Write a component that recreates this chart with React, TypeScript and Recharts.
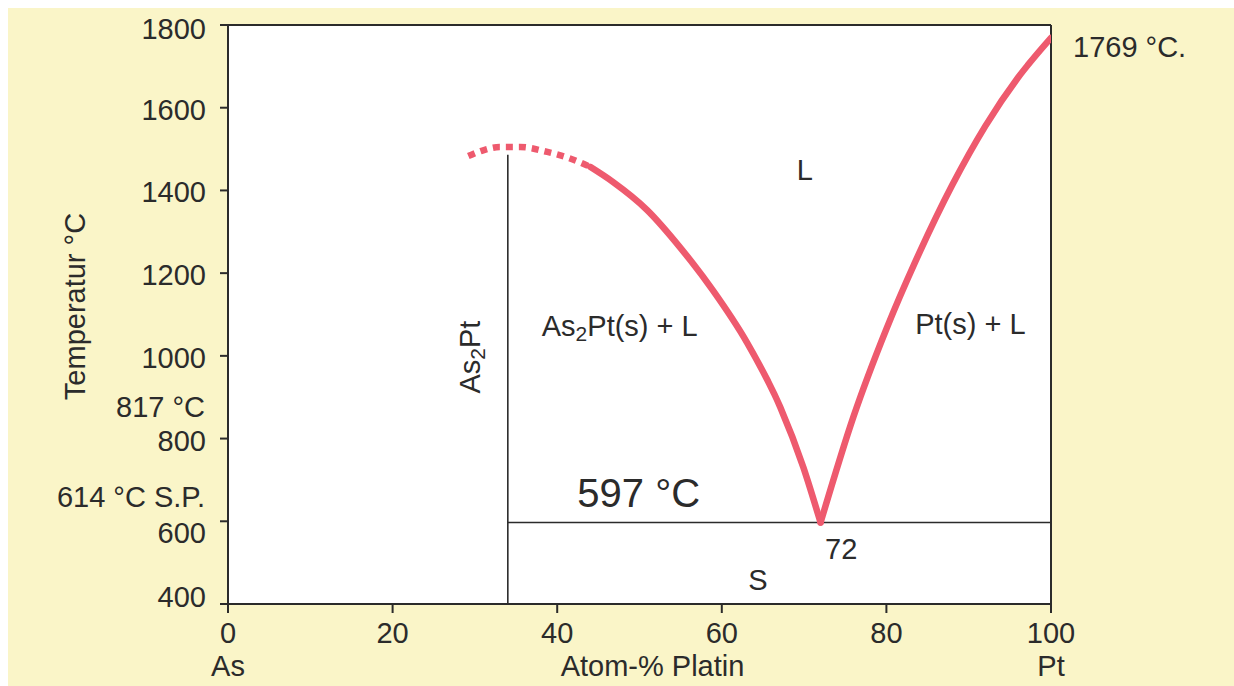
import React from 'react';
import {
  LineChart,
  Line,
  XAxis,
  YAxis,
  CartesianGrid,
  ReferenceLine,
  ReferenceDot,
} from 'recharts';

const INK = '#2b2b2b';
const RED = '#ee5a6e';
const PAPER = '#faf5c8';
const FONT = '"Liberation Sans", Arial, Helvetica, sans-serif';

// liquidus on the As2Pt side, uncertain part (dotted)
const dottedPct = [29.2, 31, 33, 35.5, 38.8, 42.4, 44];
const dottedTemp = [1483, 1497, 1505, 1505, 1493, 1471, 1457];

// liquidus on the As2Pt side, down to the eutectic
const leftPct = [44, 46.8, 50.9, 54.9, 58.9, 63.1, 67.1, 69.9, 72];
const leftTemp = [1457, 1420, 1353, 1263, 1159, 1031, 876, 731, 597];

// liquidus on the Pt side
const rightPct = [72, 76, 80, 84, 88, 92, 96, 100];
const rightTemp = [597, 853, 1065, 1249, 1413, 1555, 1673, 1769];

const xTicks = [0, 20, 40, 60, 80, 100];
const yTicks = [400, 600, 800, 1000, 1200, 1400, 1600, 1800];
const xEnds: Record<number, string> = { 0: 'As', 100: 'Pt' };

const compoundPct = 34;
const compoundTop = 1486;
const eutecticPct = 72;
const eutecticTemp = 597;
const ptMelt = 1769;

const pts = (xs: number[], ts: number[]) => xs.map((x, i) => ({ x, t: ts[i] }));

// small vertical shifts of some y tick labels, as in the figure
const yNudge: Record<number, number> = { 1800: 4, 600: 12, 400: -7 };

function YTick({ x, y, payload }: any) {
  const v = payload.value;
  return (
    <text x={x} y={y + (yNudge[v] ?? 2)} textAnchor="end" dominantBaseline="central" fontSize={29} fill={INK}>
      {v}
    </text>
  );
}

function XTick({ x, y, payload }: any) {
  const v = payload.value;
  return (
    <g>
      <text x={x} y={y} textAnchor="middle" dominantBaseline="central" fontSize={29} fill={INK}>
        {v}
      </text>
      {xEnds[v] && (
        <text x={x} y={y + 33} textAnchor="middle" dominantBaseline="central" fontSize={29} fill={INK}>
          {xEnds[v]}
        </text>
      )}
    </g>
  );
}

type NoteOpts = { dx?: number; dy?: number; size?: number; anchor?: 'start' | 'middle' | 'end'; vertical?: boolean };

const note = (body: React.ReactNode, o: NoteOpts = {}) => (p: any) => {
  const vb = p.viewBox || { x: 0, y: 0, width: 0, height: 0 };
  const cx = vb.x + (vb.width || 0) / 2 + (o.dx ?? 0);
  const cy = vb.y + (vb.height || 0) / 2 + (o.dy ?? 0);
  return (
    <text
      x={cx}
      y={cy}
      textAnchor={o.anchor ?? 'middle'}
      dominantBaseline="central"
      fontSize={o.size ?? 29}
      fill={INK}
      transform={o.vertical ? `rotate(-90 ${cx} ${cy})` : undefined}
    >
      {body}
    </text>
  );
};

const as2pt = (rest: string) => (
  <>
    <tspan>As</tspan>
    <tspan dy={7} fontSize={21}>2</tspan>
    <tspan dy={-7}>{rest}</tspan>
  </>
);

export default function App() {
  const dot = (x: number, y: number, body: React.ReactNode, opts?: NoteOpts) => (
    <ReferenceDot x={x} y={y} r={0} fill="none" stroke="none" label={note(body, opts)} />
  );
  return (
    <div
      style={{
        position: 'fixed',
        left: 8,
        top: 8,
        width: 1226,
        height: 678,
        background: PAPER,
        fontFamily: FONT,
      }}
    >
      <LineChart width={1226} height={678} margin={{ top: 17, right: 183, bottom: 0, left: 0 }}>
        <CartesianGrid fill="#ffffff" horizontal={false} vertical={false} stroke="none" />
        <XAxis
          dataKey="x"
          type="number"
          domain={[0, 100]}
          ticks={xTicks}
          allowDataOverflow
          height={82}
          tickSize={9}
          tickMargin={20}
          stroke={INK}
          strokeWidth={2}
          tick={<XTick />}
          label={note('Atom-% Platin', { dx: 13, dy: 21 })}
        />
        <YAxis
          type="number"
          domain={[400, 1800]}
          ticks={yTicks}
          allowDataOverflow
          width={220}
          tickSize={8}
          tickMargin={14}
          stroke={INK}
          strokeWidth={2}
          tick={<YTick />}
          label={note('Temperatur °C', { dx: -43, dy: -8, vertical: true })}
        />
        <ReferenceLine y={1800} stroke={INK} strokeWidth={2} />
        <ReferenceLine x={100} stroke={INK} strokeWidth={2} />
        <ReferenceLine
          segment={[{ x: compoundPct, y: 400 }, { x: compoundPct, y: compoundTop }]}
          stroke={INK}
          strokeWidth={1.6}
        />
        <ReferenceLine
          segment={[{ x: compoundPct, y: eutecticTemp }, { x: 100, y: eutecticTemp }]}
          stroke={INK}
          strokeWidth={1.6}
        />
        <Line
          data={pts(dottedPct, dottedTemp)}
          dataKey="t"
          type="monotone"
          stroke={RED}
          strokeWidth={6.5}
          strokeDasharray="7 6"
          dot={false}
          activeDot={false}
          isAnimationActive={false}
        />
        <Line
          data={pts(leftPct, leftTemp)}
          dataKey="t"
          type="monotone"
          stroke={RED}
          strokeWidth={6.5}
          strokeLinecap="round"
          dot={false}
          activeDot={false}
          isAnimationActive={false}
        />
        <Line
          data={pts(rightPct, rightTemp)}
          dataKey="t"
          type="monotone"
          stroke={RED}
          strokeWidth={6.5}
          strokeLinecap="round"
          dot={false}
          activeDot={false}
          isAnimationActive={false}
        />
        {dot(70.1, 1449, 'L')}
        {dot(47.6, 1072, as2pt('Pt(s) + L'))}
        {dot(90.2, 1077, 'Pt(s) + L')}
        {dot(49.9, 668, '597 °C', { size: 40 })}
        {dot(eutecticPct + 2.5, 533, String(eutecticPct))}
        {dot(64.4, 458, 'S')}
        {dot(29.4, 997, as2pt('Pt'), { vertical: true })}
        {dot(100, ptMelt, `${ptMelt} °C.`, { dx: 22, dy: 9, anchor: 'start' })}
        {dot(0, 817, '817 °C', { dx: -23, dy: -25, anchor: 'end' })}
        {dot(0, 614, '614 °C S.P.', { dx: -23, dy: -18, anchor: 'end' })}
      </LineChart>
    </div>
  );
}
